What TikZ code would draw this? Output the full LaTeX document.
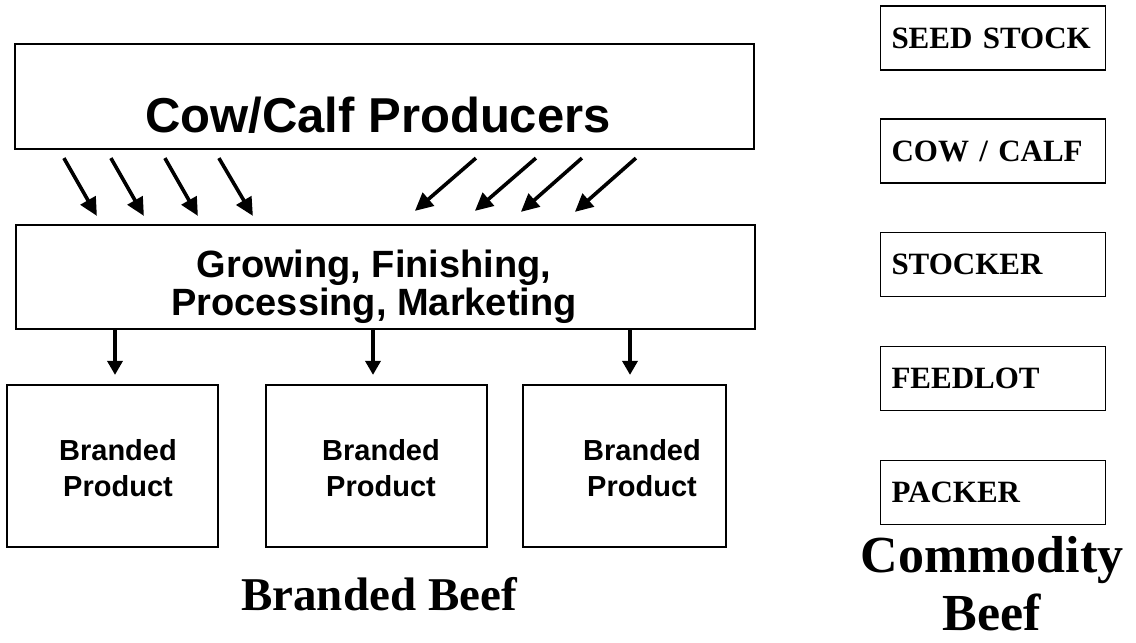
\documentclass[tikz,border=0pt]{standalone}
\usepackage{fontspec}
\setmainfont{Liberation Serif}
\setsansfont{Liberation Sans}
\usetikzlibrary{arrows.meta,calc}

\begin{document}
\begin{tikzpicture}[x=1pt,y=-1pt,
  box/.style={draw, line width=2.2pt, inner sep=0pt},
  rbox/.style={draw, line width=1.2pt, minimum width=225pt, minimum height=64pt,
    text width=203pt, inner xsep=11pt, inner ysep=0pt, align=left,
    font=\rmfamily\bfseries\fontsize{31}{31}\selectfont},
  bigsans/.style={font=\sffamily\bfseries\fontsize{49}{49}\selectfont},
  midsans/.style={font=\sffamily\bfseries\fontsize{38}{38}\selectfont, align=center},
  smallsans/.style={font=\sffamily\bfseries\fontsize{29}{36}\selectfont, align=center},
  caption/.style={font=\rmfamily\bfseries\fontsize{47}{47}\selectfont},
  bigcaption/.style={font=\rmfamily\bfseries\fontsize{52}{58}\selectfont, align=center},
  arr/.style={line width=3.6pt, -{Triangle[length=18pt,width=17pt]}},
  darr/.style={line width=3.4pt, -{Triangle[length=14pt,width=15pt]}}
]
\useasboundingbox (0,0) rectangle (1136,643);

% ---- branded beef chain ----
\node[box, minimum width=739pt, minimum height=105pt] (cow) at (384.5,96.5) {};
\node[bigsans, anchor=base] (cowtxt) at (378,132) {Cow/Calf Producers};

\node[box, minimum width=739pt, minimum height=104pt] (grow) at (385.5,277) {};
\node[midsans] (growtxt) at (374,287) {Growing, Finishing,\\Processing, Marketing};

\node[box, minimum width=211pt, minimum height=162pt] (b1) at (112.5,466) {};
\node[box, minimum width=221pt, minimum height=162pt] (b2) at (376.5,466) {};
\node[box, minimum width=203pt, minimum height=162pt] (b3) at (624.5,466) {};
\node[smallsans] (b1txt) at (118,468) {Branded\\Product};
\node[smallsans] (b2txt) at (381,468) {Branded\\Product};
\node[smallsans] (b3txt) at (642,468) {Branded\\Product};

\node[caption, anchor=base] (brandcap) at (379,610) {Branded Beef};

% arrows from the cow/calf producers into growing and finishing
\draw[arr] ($(cow.south west)+(50,8)$)  -- ($(grow.north west)+(82,-8)$);
\draw[arr] ($(cow.south west)+(97,8)$)  -- ($(grow.north west)+(129,-8)$);
\draw[arr] ($(cow.south west)+(151,8)$) -- ($(grow.north west)+(183,-8)$);
\draw[arr] ($(cow.south west)+(205,8)$) -- ($(grow.north west)+(238,-8)$);
\draw[arr] ($(cow.south west)+(462,8)$) -- ($(grow.north west)+(400,-13)$);
\draw[arr] ($(cow.south west)+(522,8)$) -- ($(grow.north west)+(460,-13)$);
\draw[arr] ($(cow.south west)+(568,8)$) -- ($(grow.north west)+(506,-12)$);
\draw[arr] ($(cow.south west)+(622,8)$) -- ($(grow.north west)+(560,-12)$);

% arrows down to the branded products
\coordinate (d1) at (115,0);
\coordinate (d2) at (373,0);
\coordinate (d3) at (630,0);
\draw[darr, shorten >=9pt] (d1 |- grow.south) -- (d1 |- b1.north);
\draw[darr, shorten >=9pt] (d2 |- grow.south) -- (d2 |- b2.north);
\draw[darr, shorten >=9pt] (d3 |- grow.south) -- (d3 |- b3.north);

% ---- commodity beef chain ----
\node[rbox] (seed)    at (993,38)    {SEED STOCK};
\node[rbox] (cowcalf) at (993,151)   {COW / CALF};
\node[rbox] (stocker) at (993,264.5) {STOCKER};
\node[rbox] (feedlot) at (993,378.5) {FEEDLOT};
\node[rbox] (packer)  at (993,492.5) {PACKER};
\node[bigcaption] (commcap) at (992,583.5) {Commodity\\Beef};
\end{tikzpicture}
\end{document}
